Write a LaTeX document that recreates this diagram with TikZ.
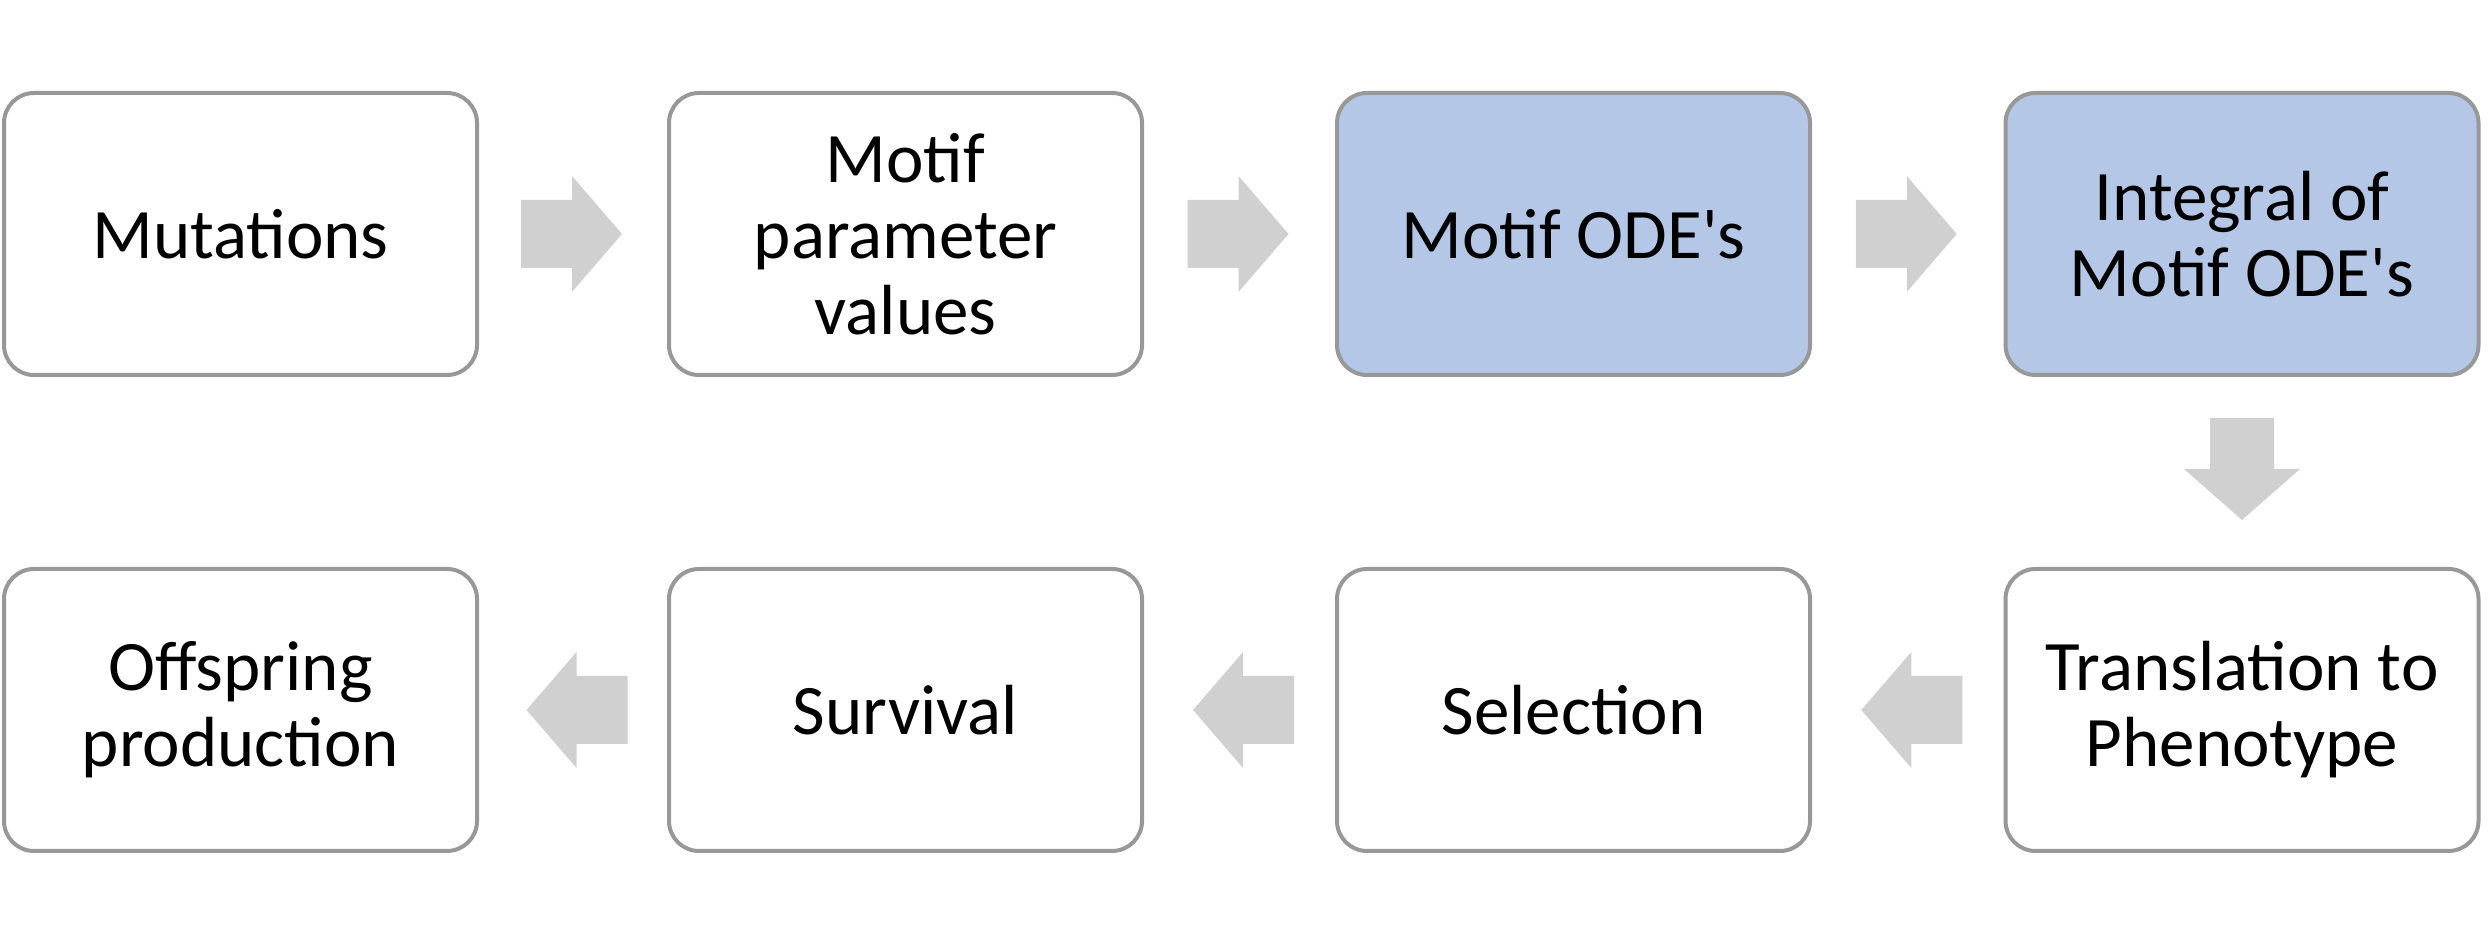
\documentclass[tikz,border=0pt]{standalone}
\usepackage{fontspec}
\setmainfont{Carlito}
\usetikzlibrary{calc}
\definecolor{boxline}{RGB}{152,152,152}
\definecolor{boxblue}{RGB}{180,199,231}
\definecolor{arrowgray}{RGB}{208,208,208}
\tikzset{
  x=1pt, y=1pt,
  stepbox/.style={draw=boxline, line width=4pt, rounded corners=30pt, fill=white,
    minimum width=473pt, minimum height=282pt, align=center, inner sep=0pt,
    font=\fontsize{71}{76}\selectfont},
  bluebox/.style={stepbox, fill=boxblue},
  rarrow/.pic={\fill[arrowgray] (-50,-34) -- (1,-34) -- (1,-58) -- (51,0) -- (1,58) -- (1,34) -- (-50,34) -- cycle;},
  larrow/.pic={\fill[arrowgray] (50,-34) -- (-1,-34) -- (-1,-58) -- (-51,0) -- (-1,58) -- (-1,34) -- (50,34) -- cycle;},
  darrow/.pic={\fill[arrowgray] (-32,51) -- (-32,0) -- (-58,0) -- (0,-51) -- (58,0) -- (32,0) -- (32,51) -- cycle;},
}
\begin{document}
\begin{tikzpicture}
\useasboundingbox (0,0) rectangle (2492,944);
\node[stepbox] (mut) at (240.5,710) {Mutations};
\node[stepbox] (par) at (905.5,710) {Motif\\parameter\\values};
\node[bluebox] (ode) at (1573.5,710) {Motif ODE\textquotesingle s};
\node[bluebox] (int) at (2242,710) {Integral of\\Motif ODE\textquotesingle s};
\node[stepbox] (off) at (240.5,234) {Offspring\\production};
\node[stepbox] (sur) at (905.5,234) {Survival};
\node[stepbox] (sel) at (1573.5,234) {Selection};
\node[stepbox] (tra) at (2242,234) {Translation to\\Phenotype};
\coordinate (a1) at ($($(mut.east)!0.5!(par.west)$)+(-2,0)$);
\coordinate (a2) at ($($(par.east)!0.5!(ode.west)$)+(-2,0)$);
\coordinate (a3) at ($($(ode.east)!0.5!(int.west)$)+(-2,0)$);
\coordinate (a4) at ($(int.south)!0.5!(tra.north)$);
\coordinate (a5) at ($($(tra.west)!0.5!(sel.east)$)+(4.5,0)$);
\coordinate (a6) at ($($(sel.west)!0.5!(sur.east)$)+(4.5,0)$);
\coordinate (a7) at ($($(sur.west)!0.5!(off.east)$)+(4.5,0)$);
\pic at (a1) {rarrow};
\pic at (a2) {rarrow};
\pic at (a3) {rarrow};
\pic at ($(a4)+(0,3)$) {darrow};
\pic at (a5) {larrow};
\pic at (a6) {larrow};
\pic at (a7) {larrow};
\end{tikzpicture}
\end{document}
